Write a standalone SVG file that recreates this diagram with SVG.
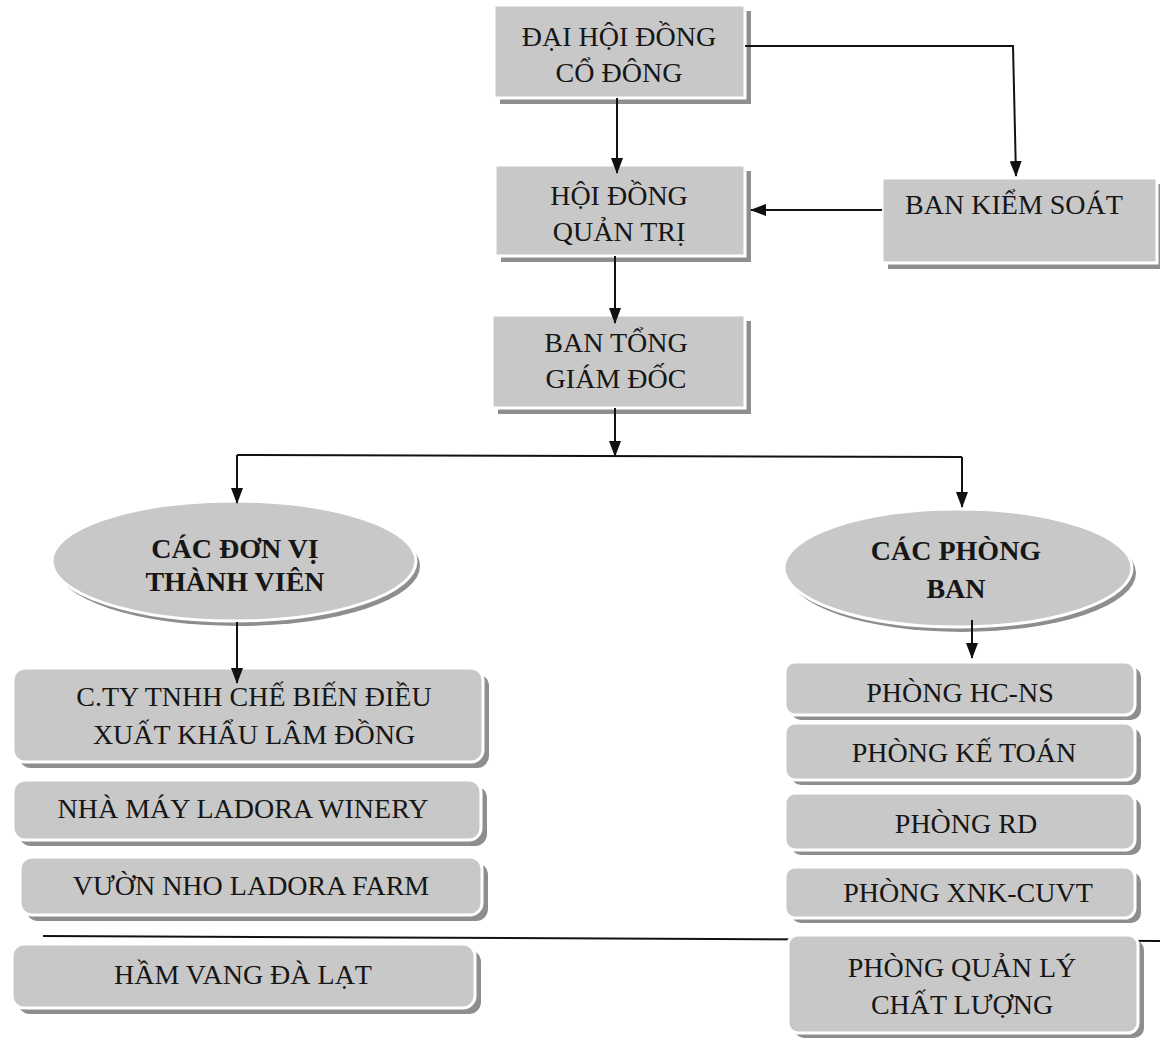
<svg xmlns="http://www.w3.org/2000/svg" width="1160" height="1040" viewBox="0 0 1160 1040">
<defs>
<marker id="ah" viewBox="0 0 16 12" markerWidth="16" markerHeight="12" refX="15" refY="6" orient="auto" markerUnits="userSpaceOnUse">
<path d="M0,0 L16,6 L0,12 z" fill="#111"/>
</marker>
</defs>
<style>
.box{fill:#c8c8c8;stroke:#ffffff;stroke-width:3}
.sh{fill:#8e8e8e}
.t{font-family:"Liberation Serif","Times New Roman",serif;font-size:28px;fill:#161616;text-anchor:middle}
.b{font-weight:bold}
.conn{stroke:#111;stroke-width:2;fill:none}
.arr{marker-end:url(#ah)}
</style>
<rect x="0" y="0" width="1160" height="1040" fill="#ffffff"/>
<g id="rule-line">
<path class="conn" d="M43,936 L1160,941"/>
</g>
<g id="n-dhdcd">
<rect class="sh" x="500" y="11" width="251" height="93"/>
<rect class="box" x="494" y="5" width="251" height="93"/>
<text class="t" x="619" y="46">ĐẠI HỘI ĐỒNG</text>
<text class="t" x="619" y="82">CỔ ĐÔNG</text>
</g>
<g id="n-hdqt">
<rect class="sh" x="501" y="171" width="250" height="91"/>
<rect class="box" x="495" y="165" width="250" height="91"/>
<text class="t" x="619" y="205">HỘI ĐỒNG</text>
<text class="t" x="619" y="241">QUẢN TRỊ</text>
</g>
<g id="n-btgd">
<rect class="sh" x="498" y="321" width="253" height="93"/>
<rect class="box" x="492" y="315" width="253" height="93"/>
<text class="t" x="616" y="352">BAN TỔNG</text>
<text class="t" x="616" y="388">GIÁM ĐỐC</text>
</g>
<g id="n-bks">
<rect class="sh" x="888" y="184" width="275" height="85"/>
<rect class="box" x="882" y="178" width="275" height="85"/>
<text class="t" x="1014" y="214">BAN KIỂM SOÁT</text>
</g>
<g id="n-dvtv">
<ellipse class="sh" cx="238" cy="566" rx="182" ry="60"/>
<ellipse class="box" cx="234" cy="561" rx="182" ry="60"/>
<text class="t b" x="235" y="558">CÁC ĐƠN VỊ</text>
<text class="t b" x="235" y="591">THÀNH VIÊN</text>
</g>
<g id="n-cpb">
<ellipse class="sh" cx="962" cy="573" rx="174" ry="59"/>
<ellipse class="box" cx="958" cy="568" rx="174" ry="59"/>
<text class="t b" x="956" y="560">CÁC PHÒNG</text>
<text class="t b" x="956" y="598">BAN</text>
</g>
<g id="n-cty">
<rect class="sh" x="19" y="674" width="470" height="94" rx="12"/>
<rect class="box" x="13" y="668" width="470" height="94" rx="12"/>
<text class="t" x="254" y="706">C.TY TNHH CHẾ BIẾN ĐIỀU</text>
<text class="t" x="254" y="744">XUẤT KHẨU LÂM ĐỒNG</text>
</g>
<g id="n-winery">
<rect class="sh" x="19" y="786" width="468" height="60" rx="12"/>
<rect class="box" x="13" y="780" width="468" height="60" rx="12"/>
<text class="t" x="243" y="818">NHÀ MÁY LADORA WINERY</text>
</g>
<g id="n-farm">
<rect class="sh" x="26" y="863" width="462" height="58" rx="12"/>
<rect class="box" x="20" y="857" width="462" height="58" rx="12"/>
<text class="t" x="251" y="895">VƯỜN NHO LADORA FARM</text>
</g>
<g id="n-hamvang">
<rect class="sh" x="18" y="950" width="463" height="64" rx="12"/>
<rect class="box" x="12" y="944" width="463" height="64" rx="12"/>
<text class="t" x="243" y="984">HẦM VANG ĐÀ LẠT</text>
</g>
<g id="n-hcns">
<rect class="sh" x="791" y="667" width="350" height="53" rx="10"/>
<rect class="box" x="785" y="662" width="350" height="53" rx="10"/>
<text class="t" x="960" y="702">PHÒNG HC-NS</text>
</g>
<g id="n-ketoan">
<rect class="sh" x="791" y="728" width="350" height="57" rx="10"/>
<rect class="box" x="785" y="723" width="350" height="57" rx="10"/>
<text class="t" x="964" y="762">PHÒNG KẾ TOÁN</text>
</g>
<g id="n-rd">
<rect class="sh" x="791" y="798" width="350" height="57" rx="10"/>
<rect class="box" x="785" y="793" width="350" height="57" rx="10"/>
<text class="t" x="966" y="833">PHÒNG RD</text>
</g>
<g id="n-xnk">
<rect class="sh" x="791" y="872" width="350" height="51" rx="10"/>
<rect class="box" x="785" y="867" width="350" height="51" rx="10"/>
<text class="t" x="968" y="902">PHÒNG XNK-CUVT</text>
</g>
<g id="n-qlcl">
<rect class="sh" x="794" y="940" width="350" height="98" rx="10"/>
<rect class="box" x="788" y="935" width="350" height="98" rx="10"/>
<text class="t" x="962" y="977">PHÒNG QUẢN LÝ</text>
<text class="t" x="962" y="1014">CHẤT LƯỢNG</text>
</g>
<g id="connectors">
<path class="conn arr" d="M617,98 L617,173"/>
<path class="conn arr" d="M745,46 L1013,46 L1016,176"/>
<path class="conn arr" d="M882,210 L751,210"/>
<path class="conn arr" d="M615,256 L615,323"/>
<path class="conn arr" d="M615,408 L615,456"/>
<path class="conn" d="M237,455 L962,457"/>
<path class="conn arr" d="M237,455 L237,503"/>
<path class="conn arr" d="M962,457 L962,507"/>
<path class="conn arr" d="M237,622 L237,683"/>
<path class="conn arr" d="M972,620 L972,658"/>
</g>
</svg>
